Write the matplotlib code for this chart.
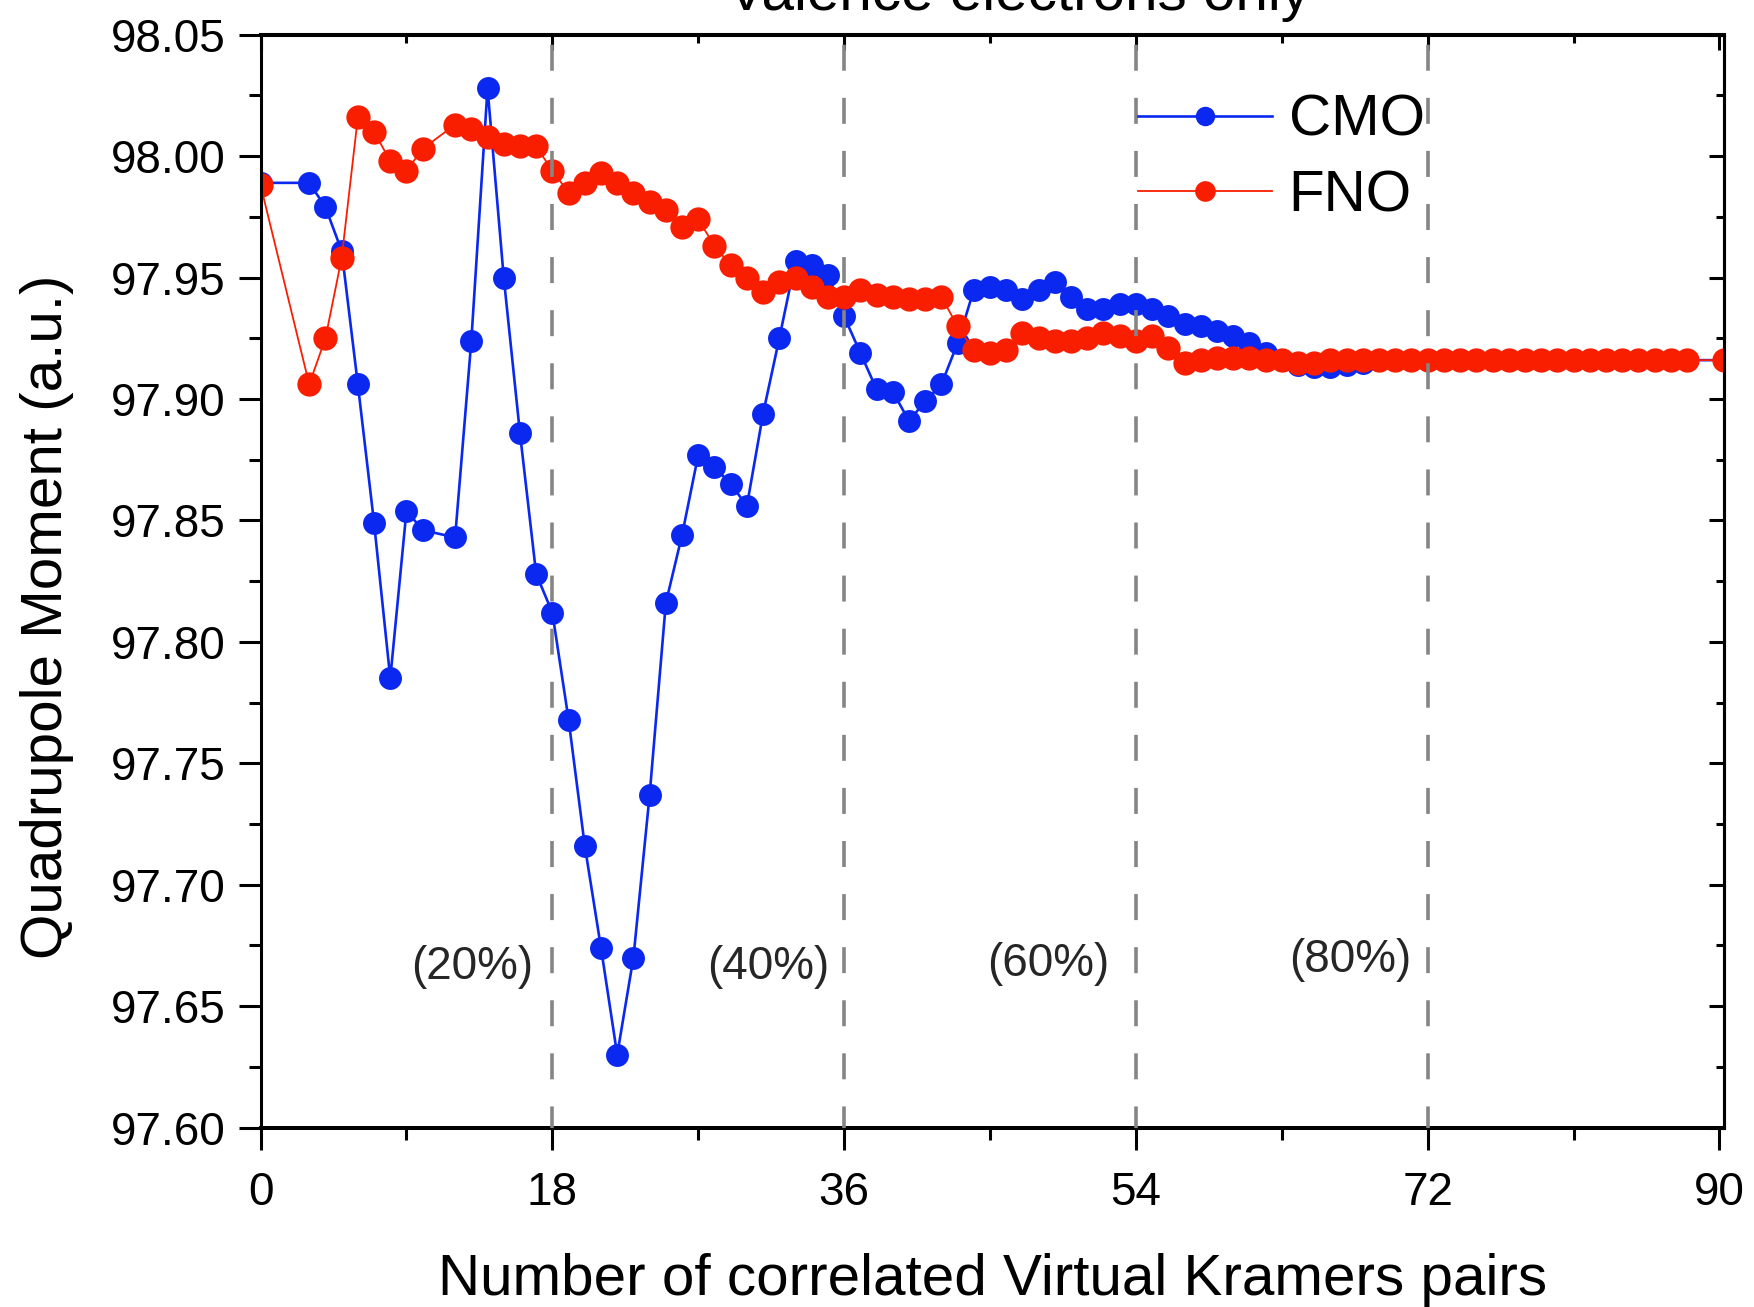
import matplotlib
matplotlib.use('Agg')
import matplotlib.pyplot as plt
from matplotlib.ticker import MultipleLocator, FixedLocator, FormatStrFormatter

plt.rcParams['font.family'] = ['Liberation Sans', 'DejaVu Sans']

# ---------------- data ----------------
pair_x = [0, 3, 4, 5, 6, 7, 8, 9, 10,
          12, 13, 14, 15, 16, 17, 18, 19, 20, 21,
          22, 23, 24, 25, 26, 27, 28, 29, 30, 31,
          32, 33, 34, 35, 36, 37, 38, 39, 40, 41,
          42, 43, 44, 45, 46, 47, 48, 49, 50, 51,
          52, 53, 54, 55, 56, 57, 58, 59, 60, 61,
          62, 63, 64, 65, 66, 67, 68, 69, 70, 71,
          72, 73, 74, 75, 76, 77, 78, 79, 80, 81,
          82, 83, 84, 85, 86, 87, 88, 90.3]

cmo_y = [97.989,
         97.989, 97.979, 97.961, 97.906, 97.849, 97.785, 97.854, 97.846,
         97.843, 97.924, 98.028, 97.950, 97.886, 97.828, 97.812, 97.768, 97.716, 97.674,
         97.630, 97.670, 97.737, 97.816, 97.844, 97.877, 97.872, 97.865, 97.856, 97.894,
         97.925, 97.957, 97.955, 97.951, 97.934, 97.919, 97.904, 97.903, 97.891, 97.899,
         97.906, 97.923, 97.945, 97.946, 97.945, 97.941, 97.945, 97.948, 97.942, 97.937,
         97.937, 97.939, 97.939, 97.937, 97.934, 97.931, 97.930, 97.928, 97.926, 97.923,
         97.919, 97.916, 97.914, 97.913, 97.913, 97.914, 97.915, 97.916, 97.916, 97.916,
         97.916, 97.916, 97.916, 97.916, 97.916, 97.916, 97.916, 97.916, 97.916, 97.916,
         97.916, 97.916, 97.916, 97.916, 97.916, 97.916, 97.916,
         97.916]

fno_y = [97.988,
         97.906, 97.925, 97.958, 98.016, 98.010, 97.998, 97.994, 98.003,
         98.013, 98.011, 98.008, 98.005, 98.004, 98.004, 97.994, 97.985, 97.989, 97.993,
         97.989, 97.985, 97.981, 97.978, 97.971, 97.974, 97.963, 97.955, 97.950, 97.944,
         97.948, 97.950, 97.946, 97.942, 97.942, 97.945, 97.943, 97.942, 97.941, 97.941,
         97.942, 97.930, 97.920, 97.919, 97.920, 97.927, 97.925, 97.924, 97.924, 97.925,
         97.927, 97.926, 97.924, 97.926, 97.921, 97.915, 97.916, 97.917, 97.917, 97.917,
         97.916, 97.916, 97.915, 97.915, 97.916, 97.916, 97.916, 97.916, 97.916, 97.916,
         97.916, 97.916, 97.916, 97.916, 97.916, 97.916, 97.916, 97.916, 97.916, 97.916,
         97.916, 97.916, 97.916, 97.916, 97.916, 97.916, 97.916,
         97.916]

series_labels = ['CMO', 'FNO']
guide_x = [18, 36, 54, 72]
pct_labels = ['(20%)', '(40%)', '(60%)', '(80%)']
pct_x = [13.05, 31.3, 48.6, 67.2]
pct_y = [97.666, 97.666, 97.6674, 97.669]
x_ticks = [0, 18, 36, 54, 72, 90]
title_text = 'Valence electrons only'
x_label = 'Number of correlated Virtual Kramers pairs'
y_label = 'Quadrupole Moment (a.u.)'

# ---------------- style ----------------
BLUE = '#0a28f0'
RED = '#fa1e00'
W, H = 1754, 1307

fig = plt.figure(figsize=(W / 100, H / 100), dpi=100)
left, right, top, bottom = 260.6, 1724.0, 34.7, 1127.6
ax = fig.add_axes([left / W, 1 - bottom / H, (right - left) / W, (bottom - top) / H])

ax.plot(pair_x, cmo_y, '-o', color=BLUE, lw=1.9, ms=16.5, mew=0, label=series_labels[0], zorder=2)
ax.plot(pair_x, fno_y, '-o', color=RED, lw=1.3, ms=17.5, mew=0, label=series_labels[1], zorder=2.5)

for gx in guide_x:
    ax.axvline(gx, ymin=1, ymax=0, color='#858585', lw=2.6,
               linestyle=(12, (7.2, 7.5)), zorder=3)

for s, px, py in zip(pct_labels, pct_x, pct_y):
    ax.text(px, py, s, ha='center', va='center', fontsize=33, color='#262626')

ax.set_xlim(0, 90.28)
ax.set_ylim(97.60, 98.05)

ax.xaxis.set_major_locator(FixedLocator(x_ticks))
ax.xaxis.set_minor_locator(MultipleLocator(9))
ax.yaxis.set_major_locator(MultipleLocator(0.05))
ax.yaxis.set_minor_locator(MultipleLocator(0.025))
ax.yaxis.set_major_formatter(FormatStrFormatter('%.2f'))

ax.tick_params(axis='both', which='major', direction='out', length=16, width=2.2,
               labelsize=33, top=False, right=False)
ax.tick_params(axis='both', which='minor', direction='out', length=8.6, width=2.2,
               top=False, right=False)
ax.tick_params(axis='x', which='major', pad=15)
ax.tick_params(axis='y', which='major', pad=9)

for side, lw in [('left', 2.2), ('right', 2.2), ('top', 2.9), ('bottom', 2.9)]:
    ax.spines[side].set_linewidth(lw)

sx = ax.secondary_xaxis('top')
sx.xaxis.set_major_locator(FixedLocator(x_ticks))
sx.xaxis.set_minor_locator(MultipleLocator(9))
sx.tick_params(which='major', direction='in', length=10.8, width=2.2, labeltop=False)
sx.tick_params(which='minor', direction='in', length=5.5, width=2.2, labeltop=False)
sx.spines['top'].set_linewidth(2.9)

sy = ax.secondary_yaxis('right')
sy.yaxis.set_major_locator(MultipleLocator(0.05))
sy.yaxis.set_minor_locator(MultipleLocator(0.025))
sy.tick_params(which='major', direction='in', length=10.8, width=2.2, labelright=False)
sy.tick_params(which='minor', direction='in', length=5.5, width=2.2, labelright=False)
sy.spines['right'].set_linewidth(2.2)

ax.set_xlabel(x_label, fontsize=42)
ax.xaxis.set_label_coords(0.5, -0.1150)
ax.set_ylabel(y_label, fontsize=42)
ax.yaxis.set_label_coords(-0.1275, 0.4672)

fig.text(1018 / W, 1 - 10 / H, title_text, ha='center', va='baseline', fontsize=42)

ax.legend(loc='upper left', bbox_to_anchor=(1138 / W, 1 - 94 / H),
          bbox_transform=fig.transFigure, frameon=False, fontsize=42,
          handlelength=2.29, handletextpad=0.29, labelspacing=0.36,
          markerscale=0.85, borderpad=0, borderaxespad=0)

fig.savefig('out.png', dpi=100)
